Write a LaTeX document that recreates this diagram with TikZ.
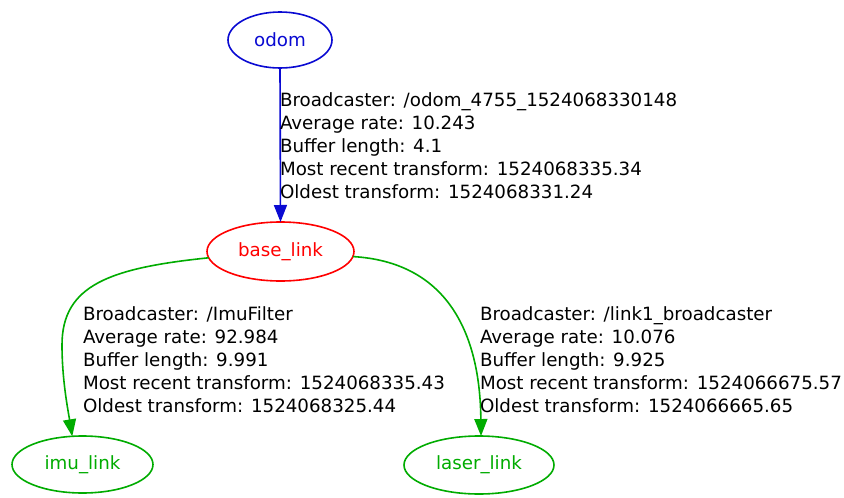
\documentclass[tikz,border=0pt]{standalone}
\usepackage{fontspec}
\setmainfont{DejaVu Sans}
\usetikzlibrary{shapes.geometric,arrows.meta}
\definecolor{tfblue}{RGB}{10,10,210}
\definecolor{tfred}{RGB}{255,0,0}
\definecolor{tfgreen}{RGB}{0,172,0}
\begin{document}
\begin{tikzpicture}[x=1pt,y=-1pt,
  every node/.style={font=\fontsize{18.25pt}{23pt}\selectfont, inner sep=0pt, outer sep=0pt},
  frame/.style={ellipse, draw, line width=1.6pt, minimum height=56pt},
  link/.style={line width=1.6pt, -{Triangle[length=17pt,width=13pt]}},
  info/.style={anchor=base west, align=left, text=black}]
  \useasboundingbox[fill=white] (0,0) rectangle (844,498);

  % frames
  \node[frame, draw=tfblue, text=tfblue, minimum width=104pt] (odom) at (280,40) {odom};
  \node[frame, draw=tfred, text=tfred, minimum width=147pt, minimum height=59pt] (base) at (280.5,251.5) {base\_link};
  \node[frame, draw=tfgreen, text=tfgreen, minimum width=141pt, minimum height=57pt] (imu) at (82.5,464.5) {imu\_link};
  \node[frame, draw=tfgreen, text=tfgreen, minimum width=150pt, minimum height=58pt] (laser) at (479,465) {laser\_link};

  % transforms
  \draw[link, tfblue] (odom.south) -- (base.north);
  \draw[link, tfgreen] (base.185) .. controls (110,268) and (62,285) .. (62,345)
                                 .. controls (62,380) and (68,410) .. (imu.110);
  \draw[link, tfgreen] (base.-4) .. controls (445,262) and (480,330) .. (laser.86);

  % transform statistics (anchored at the baseline of the last line)
  \node[info] (odomtf) at (280,198) {Broadcaster: /odom\_4755\_1524068330148\\Average rate: 10.243\\Buffer length: 4.1\\Most recent transform: 1524068335.34\\Oldest transform: 1524068331.24};
  \node[info] (imutf) at (83,412) {Broadcaster: /ImuFilter\\Average rate: 92.984\\Buffer length: 9.991\\Most recent transform: 1524068335.43\\Oldest transform: 1524068325.44};
  \node[info] (lasertf) at (480,412) {Broadcaster: /link1\_broadcaster\\Average rate: 10.076\\Buffer length: 9.925\\Most recent transform: 1524066675.57\\Oldest transform: 1524066665.65};
\end{tikzpicture}
\end{document}
